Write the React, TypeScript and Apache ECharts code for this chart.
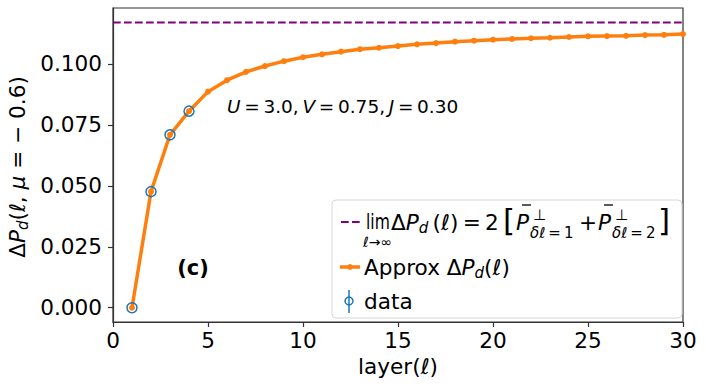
import React, { useEffect, useRef } from "react";
import * as echarts from "echarts";

// ---- data ----
const layers: number[] = Array.from({ length: 30 }, (_, i) => i + 1);
const approxValues: number[] = [
  0.0, 0.0476, 0.0709, 0.0806, 0.0886, 0.0933, 0.0967, 0.0991, 0.1011, 0.1027,
  0.1039, 0.105, 0.106, 0.1066, 0.1073, 0.108, 0.1085, 0.1091, 0.1095, 0.1099,
  0.1102, 0.1105, 0.1107, 0.111, 0.1113, 0.1114, 0.1115, 0.1118, 0.1119, 0.1122,
];
const dataLayers: number[] = [1, 2, 3, 4];
const dataValues: number[] = [0.0, 0.0476, 0.0709, 0.0806];
const limitValue = 0.117;
const limitXs: number[] = [0, 30];
const xTicks: number[] = [0, 5, 10, 15, 20, 25, 30];
const yTicks: number[] = [0, 0.025, 0.05, 0.075, 0.1];
const Y_MIN = -0.00585;
const Y_MAX = 0.1229;

const FONT = "DejaVu Sans";
const FS = 21.6;
const TS = "\u2009";

type TOpts = { size?: number; italic?: boolean; bold?: boolean; align?: string; scaleX?: number };
const T = (text: string, x: number, y: number, o: TOpts = {}) => ({
  type: "text",
  x,
  y,
  scaleX: o.scaleX ?? 1,
  z: 100,
  style: {
    text,
    fontSize: o.size ?? FS,
    fontFamily: FONT,
    fontStyle: o.italic ? "italic" : "normal",
    fontWeight: o.bold ? "bold" : "normal",
    fill: "#000",
    align: o.align ?? "left",
    verticalAlign: "middle",
  },
});

const rs = (size: number, italic: boolean, extra: any = {}) => ({
  fontSize: size,
  fontFamily: FONT,
  fontStyle: italic ? "italic" : "normal",
  color: "#000",
  ...extra,
});

const R = (text: string, x: number, y: number, size: number, rich: any, rot = 0, align = "left") => ({
  type: "text",
  x,
  y,
  rotation: rot,
  z: 100,
  style: { text, align, verticalAlign: "middle", fontSize: size, fontFamily: FONT, fill: "#000", rich },
});

export default function App() {
  const ref = useRef<HTMLDivElement>(null);
  useEffect(() => {
    if (!ref.current) return;
    const chart = echarts.init(ref.current, null, { renderer: "svg" });
    const axisLineStyle = { color: "#333", width: 1.2 };
    const barLine = (x1: number, x2: number, y: number) => ({
      type: "line",
      z: 100,
      shape: { x1, y1: y, x2, y2: y },
      style: { stroke: "#000", lineWidth: 1.3 },
    });
    const subRich = { n: rs(15, false), i: rs(15, true) };
    const AS = 18.5;
    const option: any = {
      animation: false,
      backgroundColor: "#fff",
      grid: { left: 113, right: 23, top: 8, bottom: 70, show: true, borderColor: "#333", borderWidth: 1.2, backgroundColor: "transparent" },
      xAxis: {
        type: "value",
        min: xTicks[0],
        max: xTicks[xTicks.length - 1],
        interval: 5,
        axisLine: { show: true, onZero: false, lineStyle: axisLineStyle },
        axisTick: { show: true, inside: false, length: 5, lineStyle: axisLineStyle },
        axisLabel: { fontSize: FS, fontFamily: FONT, color: "#000", margin: 7 },
        splitLine: { show: false },
        name: "layer({i|ℓ})",
        nameLocation: "middle",
        nameGap: 33,
        nameTextStyle: {
          fontSize: FS,
          fontFamily: FONT,
          color: "#000",
          rich: { i: rs(FS, true) },
        },
      },
      yAxis: {
        type: "value",
        min: Y_MIN,
        max: Y_MAX,
        axisLine: { show: true, onZero: false, lineStyle: axisLineStyle },
        axisTick: { show: true, inside: false, length: 5, lineStyle: axisLineStyle, customValues: yTicks },
        axisLabel: {
          fontSize: FS,
          fontFamily: FONT,
          color: "#000",
          margin: 11,
          customValues: yTicks,
          formatter: (v: number) => v.toFixed(3),
        },
        splitLine: { show: false },
      },
      series: [
        {
          type: "line",
          name: "limit",
          data: limitXs.map((x) => [x, limitValue]),
          symbol: "none",
          lineStyle: { color: "#800080", width: 2, type: [7.7, 3.3] },
          z: 2,
        },
        {
          type: "line",
          name: "Approx",
          data: layers.map((l, i) => [l, approxValues[i]]),
          symbol: "circle",
          symbolSize: 6,
          itemStyle: { color: "#ff7f0e" },
          lineStyle: { color: "#ff7f0e", width: 3.5 },
          z: 3,
        },
        {
          type: "scatter",
          name: "data",
          data: dataLayers.map((l, i) => [l, dataValues[i]]),
          symbol: "circle",
          symbolSize: 10,
          itemStyle: { color: "none", borderColor: "#1f77b4", borderWidth: 1.5, opacity: 1 },
          z: 4,
        },
      ],
      graphic: [
        // y-axis label
        R(
          "{n|Δ}{i|P}{s|d}{n|(}{i|ℓ}{n|, }{i|μ}{n| = − 0.6)}",
          17,
          167,
          FS,
          { n: rs(FS, false), i: rs(FS, true), s: rs(15, true, { padding: [12, 0, 0, 0] }) },
          Math.PI / 2,
          "center"
        ),
        // annotation
        R(
          `{i|U}{n|${TS}=${TS}3.0,${TS}}{i|V}{n|${TS}=${TS}0.75,${TS}}{i|J}{n|${TS}=${TS}0.30}`,
          227,
          106,
          AS,
          { n: rs(AS, false), i: rs(AS, true) }
        ),
        T("(c)", 193, 268, { bold: true, size: 21, align: "center" }),
        // legend frame
        {
          type: "rect",
          z: 90,
          shape: { x: 332, y: 200, width: 350, height: 118, r: 4 },
          style: { fill: "rgba(255,255,255,0.8)", stroke: "#d6d6d6", lineWidth: 1 },
        },
        // row 1 handle
        {
          type: "line",
          z: 100,
          shape: { x1: 341, y1: 222, x2: 361, y2: 222 },
          style: { stroke: "#800080", lineWidth: 2, lineDash: [7.7, 3.3] },
        },
        T("lim", 366, 222, { scaleX: 0.72 }),
        R("{i|ℓ}{n|→∞}", 363, 242, 14, { n: rs(14, false), i: rs(14, true) }),
        R(
          `{n|Δ}{i|P}{s|d}{n|${TS}(}{i|ℓ}{n|)${TS}=${TS}2}`,
          391,
          222,
          FS,
          { n: rs(FS, false), i: rs(FS, true), s: rs(15, true, { padding: [12, 0, 0, 0] }) }
        ),
        T("[", 503, 220, { size: 31 }),
        T("P", 516, 222, { italic: true }),
        barLine(522, 531, 205),
        T("⊥", 533, 215, { size: 15 }),
        R(`{i|δℓ}{n|${TS}=${TS}1}`, 530, 233, 15, subRich),
        T("+", 579, 222),
        T("P", 598, 222, { italic: true }),
        barLine(604, 613, 205),
        T("⊥", 615, 215, { size: 15 }),
        R(`{i|δℓ}{n|${TS}=${TS}2}`, 612, 233, 15, subRich),
        T("]", 658, 220, { size: 31 }),
        // row 2
        {
          type: "line",
          z: 100,
          shape: { x1: 340, y1: 267, x2: 360, y2: 267 },
          style: { stroke: "#ff7f0e", lineWidth: 3.5 },
        },
        { type: "circle", z: 101, shape: { cx: 350, cy: 267, r: 3 }, style: { fill: "#ff7f0e" } },
        R(
          "{n|Approx Δ}{i|P}{s|d}{n|(}{i|ℓ}{n|)}",
          364,
          267,
          FS,
          { n: rs(FS, false), i: rs(FS, true), s: rs(15, true, { padding: [12, 0, 0, 0] }) }
        ),
        // row 3
        {
          type: "line",
          z: 100,
          shape: { x1: 349, y1: 290, x2: 349, y2: 313 },
          style: { stroke: "#1f77b4", lineWidth: 1.5 },
        },
        { type: "circle", z: 101, shape: { cx: 349, cy: 301, r: 4 }, style: { fill: "none", stroke: "#1f77b4", lineWidth: 1.5 } },
        T("data", 364, 301),
      ],
    };
    chart.setOption(option);
    return () => chart.dispose();
  }, []);
  return (
    <div
      ref={ref}
      style={{ position: "fixed", left: 0, top: 0, width: 706, height: 392, background: "#fff" }}
    />
  );
}
